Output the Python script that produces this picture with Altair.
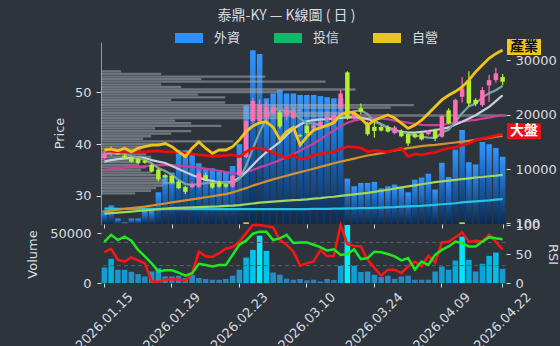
import altair as alt
import pandas as pd

# ---------------- data ----------------
dates = ["2026.01.15", "2026.01.16", "2026.01.19", "2026.01.20", "2026.01.21", "2026.01.22", "2026.01.23",
         "2026.01.26", "2026.01.27", "2026.01.28", "2026.01.29",
         "2026.01.30", "2026.02.02", "2026.02.03", "2026.02.04", "2026.02.05", "2026.02.06", "2026.02.09",
         "2026.02.10", "2026.02.11", "2026.02.23",
         "2026.02.24", "2026.02.25", "2026.02.26", "2026.03.02", "2026.03.03", "2026.03.04", "2026.03.05",
         "2026.03.06", "2026.03.09", "2026.03.10",
         "2026.03.11", "2026.03.12", "2026.03.13", "2026.03.16", "2026.03.17", "2026.03.18", "2026.03.19",
         "2026.03.20", "2026.03.23", "2026.03.24",
         "2026.03.25", "2026.03.26", "2026.03.27", "2026.03.30", "2026.03.31", "2026.04.01", "2026.04.02",
         "2026.04.07", "2026.04.08", "2026.04.09",
         "2026.04.10", "2026.04.13", "2026.04.14", "2026.04.15", "2026.04.16", "2026.04.17", "2026.04.20",
         "2026.04.21", "2026.04.22"]

open_ = [37.3, 38.1, 38.3, 37.8, 37.4, 37.2, 36.8, 36.0, 35.1, 34.0,
         33.85, 32.75, 31.7, 31.7, 31.8, 34.0, 32.55, 32.75, 32.25, 31.8,
         34.0, 37.5, 44.4, 44.4, 45.2, 46.0, 46.1, 45.6, 45.0, 41.7,
         43.5, 43.0, 43.5, 44.6, 44.3, 46.9, 53.8, 45.0, 46.9, 44.0,
         43.3, 43.3, 43.3, 42.1, 42.5, 41.9, 41.9, 42.05, 41.9, 42.7,
         41.4, 46.5, 44.3, 49.1, 52.3, 48.5, 47.5, 51.3, 52.3, 52.9]
high = [38.9, 39.6, 38.8, 38.1, 37.6, 37.4, 37.0, 36.2, 35.3, 34.3,
        34.1, 33.0, 31.9, 32.6, 34.8, 34.4, 32.9, 33.0, 32.4, 34.0,
        37.4, 44.6, 48.9, 48.6, 48.3, 47.5, 46.5, 47.3, 47.0, 42.0,
        44.0, 43.9, 44.5, 46.2, 45.9, 50.4, 54.0, 46.5, 47.8, 44.3,
        44.6, 43.6, 43.6, 43.5, 42.8, 42.2, 42.2, 42.3, 42.6, 43.0,
        45.6, 46.9, 48.7, 52.9, 54.0, 48.8, 51.0, 53.3, 54.7, 53.5]
low = [37.1, 37.7, 37.9, 37.1, 36.4, 36.1, 36.2, 34.5, 32.8, 33.4,
       32.4, 31.3, 30.4, 31.5, 31.6, 33.0, 31.4, 31.6, 31.6, 31.6,
       33.8, 37.3, 44.0, 43.8, 43.7, 45.5, 43.0, 44.6, 44.8, 41.3,
       41.8, 42.7, 43.3, 44.3, 44.0, 46.5, 44.7, 44.7, 45.7, 41.6,
       41.2, 42.4, 42.2, 41.9, 41.3, 39.6, 41.1, 40.7, 41.7, 40.6,
       41.2, 43.8, 44.1, 48.0, 47.2, 47.3, 47.2, 48.1, 51.8, 51.3]
close = [38.2, 38.5, 38.0, 37.4, 36.6, 36.3, 36.4, 34.7, 33.2, 33.6,
         32.55, 31.5, 30.8, 32.3, 34.4, 33.2, 31.6, 31.8, 31.8, 33.85,
         37.3, 44.4, 48.3, 47.6, 46.9, 47.0, 43.4, 46.6, 46.3, 41.5,
         42.1, 43.6, 44.3, 45.2, 45.6, 49.75, 44.9, 46.0, 46.2, 41.9,
         42.5, 42.6, 42.4, 43.2, 41.5, 40.1, 41.3, 40.9, 42.4, 41.1,
         45.4, 44.0, 48.5, 50.7, 47.8, 47.7, 50.4, 52.3, 53.6, 52.0]

industry = [38.85, 39.0, 38.7, 39.2, 38.5, 39.2, 39.5, 39.8, 39.8, 40.1,
            39.5, 38.5, 37.6, 39.2, 40.4, 39.2, 38.2, 38.85, 38.85, 39.5,
            40.8, 42.4, 43.5, 44.1, 44.3, 43.2, 40.9, 42.4, 43.2, 39.8,
            41.4, 42.7, 43.1, 43.65, 44.1, 45.6, 46.2, 46.0, 44.9, 43.65,
            44.6, 45.1, 45.6, 45.0, 44.0, 43.0, 43.65, 44.6, 45.9, 47.2,
            48.5, 49.4, 50.1, 51.0, 52.3, 53.9, 55.2, 56.5, 57.4, 58.1]
market = [38.85, 38.65, 38.5, 38.5, 38.5, 38.5, 38.5, 38.65, 38.7, 38.5,
          38.5, 38.4, 38.2, 38.1, 37.9, 37.8, 37.7, 37.7, 37.8, 37.9,
          37.55, 38.5, 39.2, 39.2, 38.85, 38.3, 37.9, 37.25, 37.9, 37.05,
          37.3, 37.9, 38.1, 38.3, 38.5, 39.05, 39.5, 39.4, 39.25, 38.5,
          38.75, 38.65, 38.5, 38.85, 39.2, 37.6, 38.1, 37.9, 38.2, 38.4,
          38.85, 39.2, 39.35, 39.8, 40.1, 40.75, 41.05, 41.35, 41.65, 41.9]
ma5 = [38.0, 38.2, 38.3, 38.1, 37.7, 37.4, 36.9, 36.3, 35.4, 34.8,
       34.1, 33.1, 32.3, 32.15, 32.3, 32.45, 32.45, 32.65, 32.55, 32.45,
       33.25, 35.8, 39.1, 42.3, 44.9, 46.85, 46.65, 46.3, 46.05, 44.95,
       44.0, 44.0, 43.55, 43.35, 44.15, 45.7, 45.95, 46.3, 46.5, 45.75,
       44.3, 43.85, 43.1, 42.5, 42.45, 41.95, 41.7, 41.4, 41.25, 41.15,
       42.2, 42.75, 44.3, 45.95, 47.3, 47.75, 49.0, 49.8, 50.35, 51.2]
ma10 = [36.6, 36.9, 37.1, 37.25, 37.35, 37.45, 37.3, 36.9, 36.6, 36.35,
        35.75, 35.2, 34.6, 34.05, 33.55, 33.1, 32.9, 32.6, 32.55, 32.8,
        33.45, 34.6, 35.95, 37.3, 38.45, 39.4, 40.4, 41.75, 42.9, 43.75,
        44.4, 44.6, 44.75, 44.8, 44.95, 45.05, 45.15, 45.15, 45.1, 44.8,
        44.5, 43.8, 43.2, 42.7, 42.4, 42.2, 42.2, 42.35, 42.5, 42.7,
        42.9, 43.2, 43.75, 44.3, 44.9, 45.55, 46.35, 47.15, 48.25, 49.4]
ma20 = [35.0, 35.15, 35.3, 35.45, 35.55, 35.65, 35.75, 35.85, 35.95, 35.95,
        35.95, 35.85, 35.7, 35.55, 35.4, 35.25, 35.05, 34.85, 34.6, 34.4,
        34.35, 34.6, 35.0, 35.5, 35.9, 36.4, 36.9, 37.5, 38.1, 38.7,
        39.4, 40.1, 40.9, 41.8, 42.6, 43.4, 44.1, 44.5, 44.8, 45.0,
        45.1, 44.9, 44.8, 44.5, 44.3, 44.1, 43.9, 43.7, 43.65, 43.65,
        43.7, 43.9, 44.2, 44.3, 44.5, 44.65, 44.9, 45.1, 45.35, 45.6]
ma60 = [27.0, 27.2, 27.35, 27.5, 27.65, 27.8, 27.95, 28.15, 28.35, 28.55,
        28.75, 28.95, 29.15, 29.35, 29.55, 29.75, 29.95, 30.15, 30.35, 30.7,
        31.1, 31.5, 32.0, 32.4, 32.8, 33.2, 33.55, 33.9, 34.25, 34.6,
        34.9, 35.25, 35.6, 35.95, 36.3, 36.6, 36.9, 37.2, 37.5, 37.8,
        38.0, 38.25, 38.5, 38.75, 39.0, 39.2, 39.4, 39.6, 39.75, 39.85,
        40.0, 40.15, 40.3, 40.45, 40.6, 40.8, 41.0, 41.2, 41.4, 41.55]
ma120 = [26.6, 26.7, 26.8, 26.9, 27.0, 27.1, 27.2, 27.3, 27.45, 27.55,
         27.65, 27.7, 27.75, 27.8, 27.85, 27.9, 27.95, 28.0, 28.1, 28.15,
         28.25, 28.4, 28.55, 28.7, 28.8, 28.9, 29.0, 29.1, 29.2, 29.25,
         29.35, 29.5, 29.6, 29.75, 29.85, 30.0, 30.15, 30.3, 30.45, 30.6,
         30.8, 31.0, 31.2, 31.4, 31.65, 31.85, 32.05, 32.25, 32.45, 32.65,
         32.8, 32.95, 33.1, 33.25, 33.4, 33.55, 33.65, 33.8, 33.9, 34.05]
ma240 = [27.55, 27.55, 27.5, 27.5, 27.5, 27.5, 27.5, 27.5, 27.45, 27.45,
         27.45, 27.45, 27.45, 27.45, 27.45, 27.45, 27.45, 27.45, 27.45, 27.45,
         27.45, 27.45, 27.45, 27.45, 27.45, 27.45, 27.45, 27.45, 27.45, 27.45,
         27.45, 27.5, 27.5, 27.5, 27.55, 27.55, 27.6, 27.6, 27.65, 27.65,
         27.7, 27.75, 27.8, 27.85, 27.95, 28.0, 28.05, 28.1, 28.2, 28.3,
         28.4, 28.5, 28.6, 28.75, 28.85, 28.95, 29.05, 29.15, 29.3, 29.4]

foreign = [2500, 3400, 1000, 300, 1000, 1000, 2500, 2500, 5800, 8900,
           9400, 13500, 13500, 12600, 11100, 10200, 10200, 9600, 9400, 10600,
           14600, 21700, 31800, 31100, 23000, 23900, 24500, 23900, 23900, 23600,
           23600, 23600, 23400, 23200, 23000, 23000, 8300, 6900, 7500, 7500,
           7700, 6500, 6900, 7200, 6800, 5800, 8100, 8500, 9200, 6300,
           11200, 8600, 13600, 17200, 11300, 10900, 15000, 14600, 13900, 12300]
trust = [0] * 60
dealer = [0] * 21 + [300] + [0] * 31 + [300] + [0] * 6

volume = [15600, 24300, 13300, 13300, 11300, 9000, 6600, 11600, 15000, 6600,
          6600, 7300, 5000, 8300, 5000, 4000, 3300, 3300, 4000, 7300,
          13300, 25600, 33300, 47600, 32300, 10600, 8300, 4300, 3300, 4000,
          2600, 3300, 1600, 4000, 3000, 17300, 62000, 17300, 11000, 11600,
          8300, 6000, 7300, 4300, 6600, 7300, 3300, 3300, 3300, 11600,
          16600, 13300, 22600, 46600, 23300, 11600, 19300, 27300, 30600, 14300]
rsi_fast = [53, 59, 40, 37, 44, 39, 34, 3, 2, 6,
            6, 6, 4, 17, 54, 46, 45, 51.5, 59, 62,
            71, 86, 100, 100, 98, 96, 74, 66, 54, 30,
            34, 37, 57, 46, 47, 100, 67, 64, 63, 40,
            26, 12.5, 23, 23, 17, 28.5, 37, 28.5, 47, 35,
            70, 71, 79, 87, 71, 73, 71, 83, 71, 58]
rsi_slow = [71, 83, 74, 80, 73, 57, 46, 34, 20, 22,
            22, 18, 12.5, 17, 33, 31, 28.5, 31, 31, 48.5,
            66, 73, 85, 88.5, 88.5, 74, 77, 83, 69, 70,
            70, 66, 62, 56, 58, 48.5, 50, 58, 41, 43,
            54, 53, 50, 46, 39, 43, 23, 37, 31.4, 48.5,
            57, 63, 71.4, 68.6, 63, 63, 71.4, 79, 77, 75.5]
rsi_levels = [30, 70]

profile_price = [54.0, 53.5, 53.0, 52.5, 52.0, 51.5, 51.0, 50.5, 50.0, 49.5, 49.0, 48.5,
                 48.0, 47.5, 47.0, 46.5, 46.0, 45.5, 45.0, 44.5, 44.0, 43.5, 43.0, 42.5,
                 42.0, 41.5, 41.0, 40.5, 40.0, 39.5, 39.0, 38.5, 38.0, 37.5, 37.0, 36.5,
                 36.0, 35.5, 35.0, 34.5, 34.0, 33.5, 33.0, 32.5, 32.0, 31.5, 31.0, 30.5]
profile_volume = [20, 60, 164, 100, 224, 60, 80, 254, 176, 97, 124, 70,
                  124, 312, 289, 200, 250, 404, 180, 74, 90, 120, 54, 90,
                  70, 50, 42, 132, 60, 45, 40, 40, 45, 50, 40, 35,
                  38, 45, 40, 50, 55, 60, 65, 74, 62, 55, 50, 34]

institutions = ["外資", "投信", "自營"]
tag_names = ["產業", "大盤"]
tick_dates = [dates[i] for i in (0, 10, 20, 30, 40, 50, 59)]

# ---------------- style ----------------
BG = "#2e343c"
TXT = "#d8dce2"
FONT = "DejaVu Sans"
CJK = "Noto Sans CJK TC"
UP, DOWN = "#ff6fb5", "#b2ef2c"
TOP_RANGE = [182, 0]
BOT_RANGE = [241, 183]

df = pd.DataFrame({"date": dates, "o": open_, "h": high, "l": low, "c": close,
                   "industry": industry, "market": market, "ma5": ma5, "ma10": ma10,
                   "ma20": ma20, "ma60": ma60, "ma120": ma120, "ma240": ma240,
                   "fx": foreign, "vol": volume, "rf": rsi_fast, "rs": rsi_slow})
inst_df = pd.DataFrame({"date": dates * 2, "inst": ["投信"] * 60 + ["自營"] * 60,
                        "val": trust + dealer})
prof_df = pd.DataFrame({"p": profile_price, "v": profile_volume})
tag_df = pd.DataFrame({"name": tag_names, "val": [industry[-1], market[-1]]})
lvl_df = pd.DataFrame({"lvl": rsi_levels})


def xenc(axis=None):
    return alt.X("date:O", scale=alt.Scale(domain=dates, paddingInner=0.18), axis=axis, title=None)


def price_y(field, axis=None):
    return alt.Y(field, scale=alt.Scale(domain=[24.6, 59.65], nice=False, zero=False, range=TOP_RANGE),
                 axis=axis, title=None)


def fx_y(field, axis=None):
    return alt.Y(field, scale=alt.Scale(domain=[0, 33300], nice=False, range=TOP_RANGE),
                 axis=axis, title=None, stack=None)


# ---------------- top panel ----------------
grad = alt.Gradient(gradient="linear",
                    stops=[alt.GradientStop(color="#3196ff", offset=0),
                           alt.GradientStop(color="#1a64b8", offset=0.45),
                           alt.GradientStop(color="#0b2a50", offset=1)],
                    x1=1, x2=1, y1=0, y2=1)
fx_bars = alt.Chart(df).mark_bar(fill=grad).encode(
    x=xenc(),
    y=fx_y("fx:Q", alt.Axis(orient="right", values=[100, 10000, 20000, 30000], format="d",
                            tickSize=4, labelPadding=5, domain=False, grid=False)),
)
small_bars = alt.Chart(inst_df).mark_bar().encode(
    x=xenc(),
    y=fx_y("val:Q"),
    color=alt.Color("inst:N",
                    scale=alt.Scale(domain=institutions, range=["#2e8ff5", "#12b76a", "#e8c520"]),
                    legend=alt.Legend(orient="none", legendX=78, legendY=-14, direction="horizontal",
                                      title=None, padding=0,
                                      symbolType="M-1.4,-0.5H1.4V0.5H-1.4Z", symbolSize=400,
                                      symbolStrokeWidth=0, symbolOpacity=1,
                                      labelFont=CJK, labelFontSize=13, labelColor=TXT,
                                      labelOffset=15, columnPadding=33)),
)

profile = alt.Chart(prof_df).mark_rule(strokeWidth=2.3, color="#b0b6be", opacity=0.5).encode(
    x=alt.X("v:Q", scale=alt.Scale(domain=[0, max(profile_volume)], nice=False), axis=None),
    x2=alt.datum(0),
    y=price_y("p:Q"),
)

price_axis = alt.Axis(orient="left", values=[30, 40, 50], title="Price", tickSize=5,
                      labelPadding=5, titlePadding=8, domain=True, domainColor="#8d949d", grid=False)
top_x_axis = alt.Axis(orient="bottom", values=tick_dates, labels=False, tickSize=4, domain=False,
                      grid=False, offset=-59)


def line(field, color, width, axis=None):
    return alt.Chart(df).mark_line(color=color, strokeWidth=width).encode(
        x=xenc(top_x_axis if axis else None),
        y=price_y(f"{field}:Q", axis),
    )


candle_color = alt.condition("datum.c >= datum.o", alt.value(UP), alt.value(DOWN))
wick = alt.Chart(df).mark_rule(strokeWidth=1.2).encode(
    x=xenc(), y=price_y("l:Q"), y2="h:Q", color=candle_color)
body = alt.Chart(df).mark_bar(width=4.5).encode(
    x=xenc(), y=price_y("o:Q"), y2="c:Q", color=candle_color)

is_ind = "datum.name == '產業'"
tag_box = alt.Chart(tag_df).mark_point(shape="M-1,-0.47H1V0.47H-1Z", size=1156, filled=True,
                                       opacity=1, yOffset=-3).encode(
    x=alt.value(423), y=price_y("val:Q"),
    color=alt.condition(is_ind, alt.value("#f2c814"), alt.value("#e5131b")))
tag_text = alt.Chart(tag_df).mark_text(font=CJK, fontSize=14, fontWeight="bold", yOffset=-3,
                                       baseline="middle").encode(
    x=alt.value(423), y=price_y("val:Q"), text="name:N",
    color=alt.condition(is_ind, alt.value("#111111"), alt.value("#ffffff")))

# ---------------- bottom panel ----------------
bottom_x_axis = alt.Axis(orient="bottom", values=tick_dates, labelAngle=-45, labelAlign="center",
                         labelBaseline="middle", labelPadding=34, tickSize=4, domain=False, grid=False)
vol_bars = alt.Chart(df).mark_bar().encode(
    x=xenc(bottom_x_axis),
    y=alt.Y("vol:Q", scale=alt.Scale(domain=[0, 58300], nice=False, clamp=True, range=BOT_RANGE),
            title="Volume",
            axis=alt.Axis(orient="left", values=[0, 50000], format="d", tickSize=4,
                          labelPadding=6, titlePadding=10, domain=False, grid=False)),
    color=alt.Color("vol:Q", scale=alt.Scale(domain=[0, 50000], range=["#2f78b4", "#00eeff"], clamp=True),
                    legend=None),
)


def rsi_y(field, axis=None):
    return alt.Y(field, scale=alt.Scale(domain=[0, 100], nice=False, clamp=True, range=BOT_RANGE),
                 axis=axis, title="RSI" if axis else None)


rsi_axis = alt.Axis(orient="right", values=[0, 50, 100], tickSize=4, labelPadding=5,
                    titlePadding=6, domain=False, grid=False)
levels = alt.Chart(lvl_df).mark_rule(color="#59606a", strokeDash=[4, 3], strokeWidth=1).encode(
    y=rsi_y("lvl:Q", rsi_axis))
rsi_red = alt.Chart(df).mark_line(color="#ff1414", strokeWidth=2.5).encode(
    x=xenc(), y=rsi_y("rf:Q"))
rsi_green = alt.Chart(df).mark_line(color="#1fe81f", strokeWidth=2.5).encode(
    x=xenc(), y=rsi_y("rs:Q"))

chart = alt.layer(
    fx_bars, small_bars, profile,
    line("ma240", "#22c6e0", 2.2, price_axis),
    line("ma120", "#a3d65c", 2.2),
    line("ma60", "#d4902e", 2.2),
    line("ma20", "#cc3d9e", 2.2),
    line("ma10", "#c9ced8", 2.2),
    line("ma5", "#78a3a6", 2.2),
    wick, body,
    line("market", "#e80f0f", 2.8),
    line("industry", "#f0c419", 2.8),
    tag_box, tag_text,
    vol_bars, levels, rsi_red, rsi_green,
).resolve_scale(x="independent", y="independent", color="independent").properties(
    width=405, height=241,
    title=alt.TitleParams("泰鼎-KY — K線圖 ( 日 )", font=CJK, fontSize=14, fontWeight="normal",
                          color=TXT, anchor="middle", offset=5, dx=-17),
    autosize=alt.AutoSizeParams(type="none"),
    padding={"left": 101, "top": 42, "right": 54, "bottom": 63},
).configure(background=BG).configure_view(stroke=None).configure_axis(
    labelColor=TXT, tickColor=TXT, titleColor=TXT, labelFont=FONT, titleFont=FONT,
    labelFontSize=13, titleFontSize=13, titleFontWeight="normal", grid=False)

chart.save("out.html", embed_options={"renderer": "svg", "actions": False})
